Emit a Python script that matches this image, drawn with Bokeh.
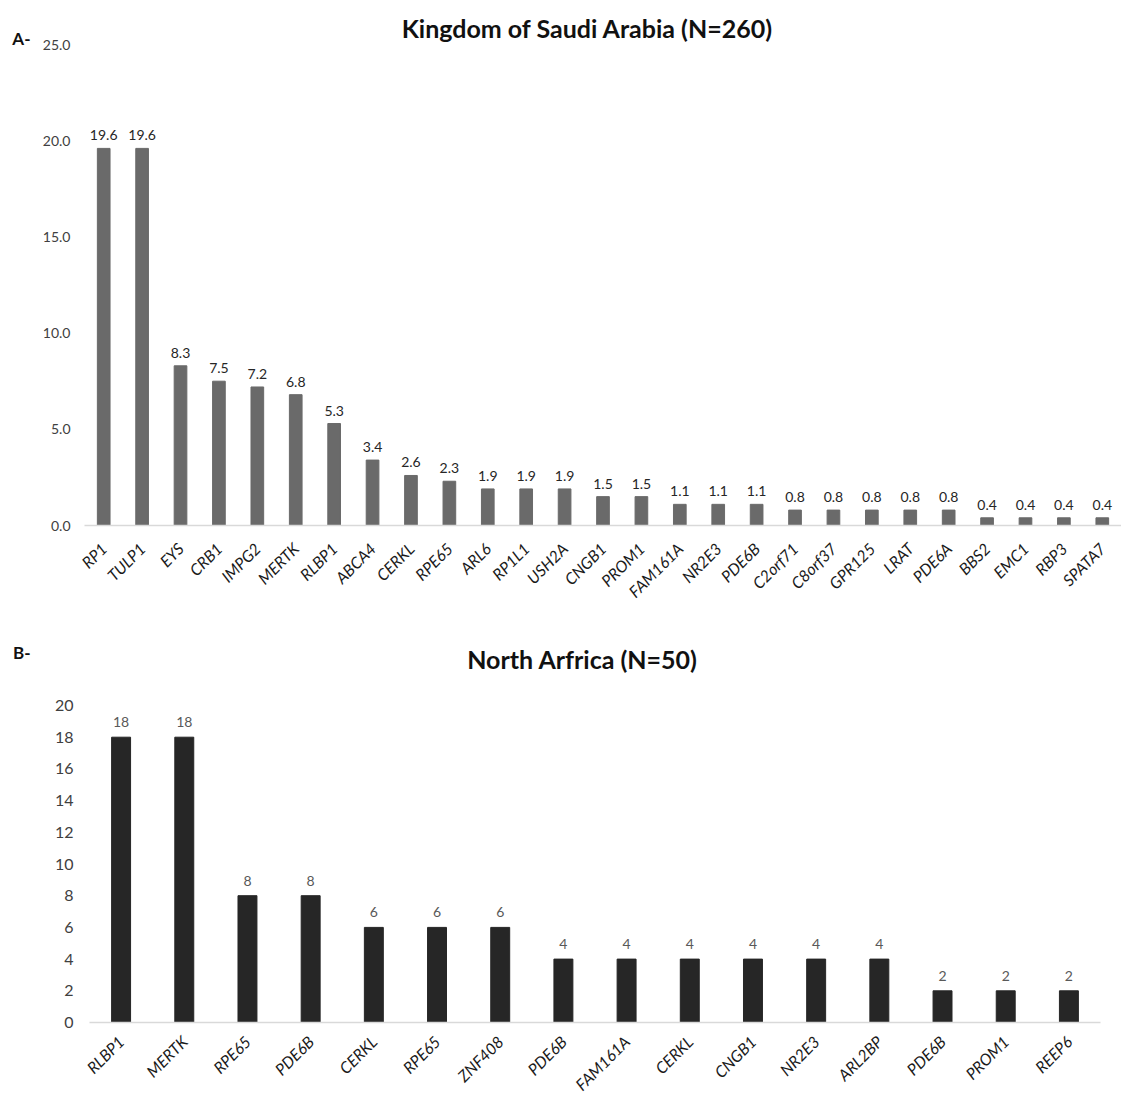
from math import pi
from bokeh.plotting import figure
from bokeh.models import (ColumnDataSource, Range1d, FixedTicker, LabelSet, Label, LinearAxis)
from bokeh.core.properties import value
from bokeh.embed import file_html
from bokeh.resources import INLINE

# ---- Data: panel A (Kingdom of Saudi Arabia, N=260) ----
genes_a = ["RP1", "TULP1", "EYS", "CRB1", "IMPG2", "MERTK", "RLBP1", "ABCA4", "CERKL",
           "RPE65", "ARL6", "RP1L1", "USH2A", "CNGB1", "PROM1", "FAM161A", "NR2E3",
           "PDE6B", "C2orf71", "C8orf37", "GPR125", "LRAT", "PDE6A", "BBS2", "EMC1",
           "RBP3", "SPATA7"]
values_a = [19.6, 19.6, 8.3, 7.5, 7.2, 6.8, 5.3, 3.4, 2.6, 2.3, 1.9, 1.9, 1.9, 1.5, 1.5,
            1.1, 1.1, 1.1, 0.8, 0.8, 0.8, 0.8, 0.8, 0.4, 0.4, 0.4, 0.4]
yticks_a = [0, 5, 10, 15, 20, 25]
title_a = "Kingdom of Saudi Arabia (N=260)"

# ---- Data: panel B (North Africa, N=50) ----
genes_b = ["RLBP1", "MERTK", "RPE65", "PDE6B", "CERKL", "RPE65", "ZNF408", "PDE6B",
           "FAM161A", "CERKL", "CNGB1", "NR2E3", "ARL2BP", "PDE6B", "PROM1", "REEP6"]
values_b = [18, 18, 8, 8, 6, 6, 6, 4, 4, 4, 4, 4, 4, 2, 2, 2]
yticks_b = [0, 2, 4, 6, 8, 10, 12, 14, 16, 18, 20]
title_b = "North Arfrica (N=50)"

FONT = "Lato"


def make_panel(genes, values, yticks, ytop, label_fmt, tick_fmt, height,
               border_top, border_bottom, border_left, border_right, top_gap_px,
               bar_color, bar_width, val_color, val_size, tick_size, cat_size,
               val_offset, standoff, cat_standoff, title, title_xy,
               letter, letter_px, letter_standoff):
    n = len(genes)
    xs = list(range(n))
    frame_h = height - border_top - border_bottom
    # extend the frame above the last tick so the heading sits inside it
    yend = ytop * frame_h / (frame_h - top_gap_px)
    src = ColumnDataSource(dict(x=xs, top=values, lab=[label_fmt(v) for v in values]))
    p = figure(width=1121, height=height, output_backend="svg", toolbar_location=None,
               x_range=Range1d(-0.5, n - 0.5), y_range=Range1d(0, yend),
               min_border_top=border_top, min_border_bottom=border_bottom,
               min_border_left=border_left, min_border_right=border_right)
    p.outline_line_color = None
    p.xgrid.visible = False
    p.ygrid.visible = False
    p.vbar(x="x", top="top", width=bar_width, source=src, fill_color=bar_color,
           line_color=bar_color)
    p.add_layout(LabelSet(x="x", y="top", text="lab", source=src, y_offset=val_offset,
                          text_align="center", text_baseline="bottom",
                          text_font=value(FONT), text_font_size=value(val_size),
                          text_color=val_color))
    # x axis
    p.xaxis.ticker = FixedTicker(ticks=xs)
    p.xaxis.major_label_overrides = {i: g for i, g in enumerate(genes)}
    p.xaxis.major_label_orientation = pi / 4
    p.xaxis.major_label_text_font = FONT
    p.xaxis.major_label_text_font_style = "italic"
    p.xaxis.major_label_text_font_size = cat_size
    p.xaxis.major_label_text_color = "#1a1a1a"
    p.xaxis.axis_line_color = "#d9d9d9"
    p.xaxis.axis_line_width = 1.5
    p.xaxis.major_tick_line_color = None
    p.xaxis.minor_tick_line_color = None
    p.xaxis.major_tick_out = 0
    p.xaxis.major_label_standoff = cat_standoff
    # y axis
    p.yaxis.ticker = FixedTicker(ticks=yticks)
    p.yaxis.major_label_overrides = {t: tick_fmt(t) for t in yticks}
    p.yaxis.axis_line_color = None
    p.yaxis.major_tick_line_color = None
    p.yaxis.minor_tick_line_color = None
    p.yaxis.major_tick_out = 0
    p.yaxis.major_label_standoff = standoff
    p.yaxis.major_label_text_font = FONT
    p.yaxis.major_label_text_font_size = tick_size
    p.yaxis.major_label_text_color = "#404040"
    # panel letter, drawn as the single label of an outer left axis
    px_per_unit = (frame_h - top_gap_px) / ytop
    y_letter = round(letter_px / px_per_unit, 3)
    lax = LinearAxis(ticker=FixedTicker(ticks=[y_letter]),
                     major_label_overrides={y_letter: letter})
    lax.axis_line_color = None
    lax.major_tick_line_color = None
    lax.minor_tick_line_color = None
    lax.major_tick_out = 0
    lax.major_label_standoff = letter_standoff
    lax.major_label_text_font = FONT
    lax.major_label_text_font_style = "bold"
    lax.major_label_text_font_size = "17px"
    lax.major_label_text_color = "#111111"
    p.add_layout(lax, "left")
    # title inside the extended frame
    p.add_layout(Label(x=title_xy[0], y=title_xy[1], x_units="screen", y_units="screen",
                       text=title, text_align="center", text_baseline="alphabetic",
                       text_font=FONT, text_font_style="bold", text_font_size="25px",
                       text_color="#111111"))
    return p


pa = make_panel(genes_a, values_a, yticks_a, 25, lambda v: f"{v:.1f}", lambda t: f"{t:.1f}",
                height=637, border_top=10, border_bottom=112, border_left=84, border_right=0,
                top_gap_px=34, bar_color="#6a6a6a", bar_width=0.33, val_color="#262626",
                val_size="14px", tick_size="14px", cat_size="16px", val_offset=8,
                standoff=14, cat_standoff=20, title=title_a, title_xy=(503, 498),
                letter="A-", letter_px=487, letter_standoff=9)

pb = make_panel(genes_b, values_b, yticks_b, 20, lambda v: f"{v:d}", lambda t: f"{t:d}",
                height=468, border_top=8, border_bottom=83, border_left=89, border_right=21,
                top_gap_px=60, bar_color="#262626", bar_width=0.3, val_color="#595959",
                val_size="14px", tick_size="16px", cat_size="16px", val_offset=10,
                standoff=16, cat_standoff=16, title=title_b, title_xy=(493, 364),
                letter="B-", letter_px=370.5, letter_standoff=21)

# two independent roots, stacked, so each keeps its own plot frame
open("out.html", "w").write(file_html([pa, pb], INLINE))
